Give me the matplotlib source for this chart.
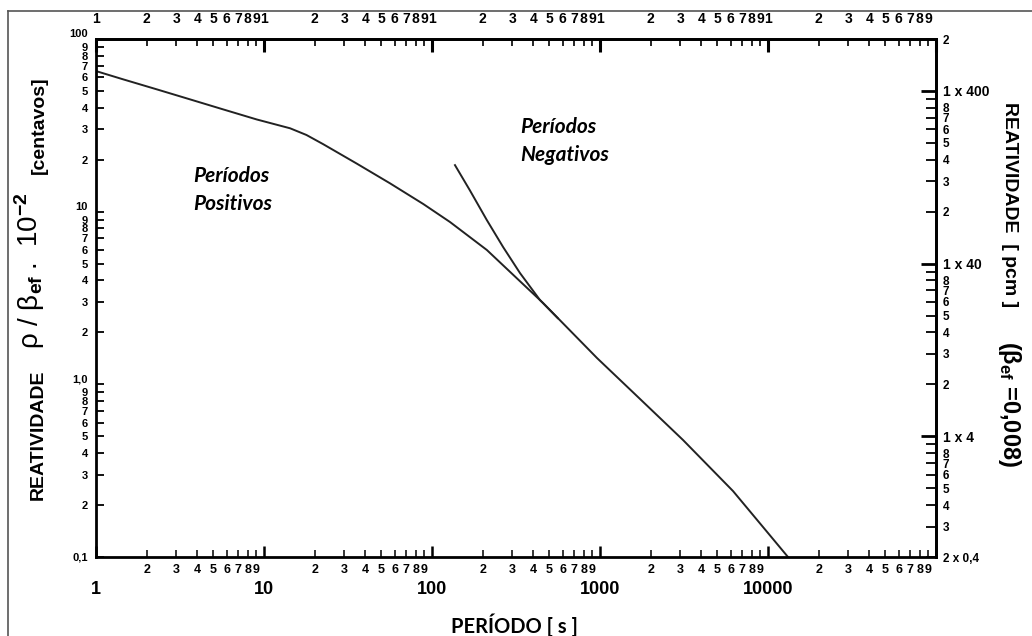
import matplotlib.pyplot as plt
from matplotlib.lines import Line2D

# data (period in s, reactivity in cents)
pos_period = [1, 1.45, 2.3, 3.63, 5.72, 9.05, 14.3, 17.9, 22.5, 35.6, 56.2, 88.8, 128,
              212, 458, 960, 1571, 3120, 6190, 9860, 13150]
pos_react = [65.2, 58.4, 51.1, 44.7, 39.1, 34.2, 30.4, 27.8, 24.6, 19.0, 14.6, 11.07, 8.71,
             6.0, 2.96, 1.42, 0.90, 0.476, 0.241, 0.140, 0.1]
neg_period = [137, 168, 212, 265, 334, 439, 560]
neg_react = [18.6, 13.3, 8.94, 6.24, 4.41, 3.08, 2.42]

beta_ef = 0.008
x_major = [1, 10, 100, 1000, 10000, 100000]
x_major_labels = ["1", "10", "100", "1000", "10000", ""]
digits = [2, 3, 4, 5, 6, 7, 8, 9]
y_major = [0.1, 1, 10, 100]
y_major_labels = ["0,1", "1,0", "10", "100"]
pcm_major = [4, 40, 400]
pcm_major_labels = ["1 x 4", "1 x 40", "1 x 400"]

ARIAL = ["Liberation Sans", "DejaVu Sans"]
CAL = ["Lato", "DejaVu Sans"]
plt.rcParams["font.family"] = ARIAL
plt.rcParams["font.weight"] = "bold"
plt.rcParams["mathtext.fontset"] = "custom"
plt.rcParams["mathtext.rm"] = "Liberation Sans"
plt.rcParams["mathtext.it"] = "Liberation Sans:italic"
plt.rcParams["mathtext.bf"] = "Liberation Sans:bold"

W, H = 1032, 636


def fx(x):
    return x / W


def fy(y):
    return 1 - y / H


fig = plt.figure(figsize=(W / 100, H / 100), dpi=100)
ax = fig.add_axes([fx(96), fy(557), (936 - 96) / W, (557 - 39) / H])
ax.set_xscale("log")
ax.set_yscale("log")
ax.set_xlim(1, 1e5)
ax.set_ylim(0.1, 100)

ax.plot(pos_period, pos_react, color="#222222", lw=1.4, solid_joinstyle="round")
ax.plot(neg_period, neg_react, color="#222222", lw=1.4, solid_joinstyle="round")

for s in ax.spines.values():
    s.set_linewidth(2)

# bottom axis
x_minor = [d * 10 ** e for e in range(5) for d in digits]
x_minor_labels = [str(d) for e in range(5) for d in digits]
ax.set_xticks(x_major, x_major_labels)
ax.set_xticks(x_minor, x_minor_labels, minor=True)
ax.tick_params(axis="x", which="major", direction="in", length=8, width=1.8,
               pad=17, labelsize=13)
ax.tick_params(axis="x", which="minor", direction="in", length=5, width=1.1,
               pad=5, labelsize=9)

# left axis
y_minor = [d * 10 ** e for e in range(-1, 2) for d in digits]
y_minor_labels = [str(d) for e in range(-1, 2) for d in digits]
ax.set_yticks(y_major, y_major_labels)
ax.set_yticks(y_minor, y_minor_labels, minor=True)
ax.tick_params(axis="y", which="both", direction="in", length=6, width=1.3,
               pad=6, labelsize=8)
for lbl in ax.get_yticklabels()[1:]:
    lbl.set_verticalalignment("bottom")

# top axis
top = ax.secondary_xaxis("top")
top.set_xticks(x_major, ["1", "1", "1", "1", "1", ""])
top.set_xticks(x_minor, x_minor_labels, minor=True)
top.tick_params(which="major", direction="in", length=9, width=2.2, pad=9, labelsize=10)
top.tick_params(which="minor", direction="in", length=5, width=1.2, pad=9, labelsize=10)
top.spines["top"].set_linewidth(2)

# right axis in pcm
right = ax.secondary_yaxis("right", functions=(lambda v: v * beta_ef * 1000,
                                               lambda v: v / (beta_ef * 1000)))
pcm_minor = [d * 0.4 * 10 ** e for e in range(3) for d in digits] + [800]
pcm_minor_labels = []
for e in range(3):
    for d in digits:
        if d == 9:
            pcm_minor_labels.append("")
        elif e == 0 and d == 2:
            pcm_minor_labels.append("2 x 0,4")
        else:
            pcm_minor_labels.append(str(d))
pcm_minor_labels.append("2")
right.set_yticks(pcm_major, pcm_major_labels)
right.set_yticks(pcm_minor, pcm_minor_labels, minor=True)
right.tick_params(which="major", direction="in", length=11, width=2, pad=5, labelsize=10)
right.tick_params(which="minor", direction="in", length=7, width=1.3, pad=5, labelsize=8.5)
right.spines["right"].set_linewidth(2)

# left label
fig.text(fx(43), fy(435), "REATIVIDADE", rotation=90, rotation_mode="anchor",
         ha="center", va="baseline", fontsize=14)
fig.text(fx(38), fy(312), r"ρ / β$_{\mathrm{ef}}$", rotation=90, rotation_mode="anchor",
         ha="center", va="baseline", fontsize=20, fontweight="normal")
fig.text(fx(38), fy(231), r".  10$^{\mathrm{-2}}$", rotation=90, rotation_mode="anchor",
         ha="center", va="baseline", fontsize=20, fontweight="normal")
fig.text(fx(44), fy(125), "[centavos]", rotation=90, rotation_mode="anchor",
         ha="center", va="baseline", fontsize=14)

# right label
fig.text(fx(1005), fy(205), "REATIVIDADE  [ pcm ]", rotation=-90, rotation_mode="anchor",
         ha="center", va="baseline", fontsize=14)
fig.text(fx(1003), fy(404), r"(β$_{\mathrm{ef}}$ =0,008)", rotation=-90,
         rotation_mode="anchor", ha="center", va="baseline", fontsize=17)

# bottom label
fig.text(fx(514), fy(633), "PERÍODO [ s ]", ha="center", va="baseline",
         fontsize=14.5, family=CAL)

# annotations
fig.text(fx(193), fy(182), "Períodos", ha="left", va="baseline", fontsize=15,
         style="italic", family=CAL)
fig.text(fx(193), fy(210), "Positivos", ha="left", va="baseline", fontsize=15,
         style="italic", family=CAL)
fig.text(fx(520), fy(133), "Períodos", ha="left", va="baseline", fontsize=15,
         style="italic", family=CAL)
fig.text(fx(520), fy(161), "Negativos", ha="left", va="baseline", fontsize=15,
         style="italic", family=CAL)

# outer frame
fig.add_artist(Line2D([fx(8), 1], [fy(11), fy(11)], color="#555555", lw=1.2))
fig.add_artist(Line2D([fx(8), fx(8)], [fy(11), 0], color="#555555", lw=1.2))

fig.savefig("out.png", dpi=100)
